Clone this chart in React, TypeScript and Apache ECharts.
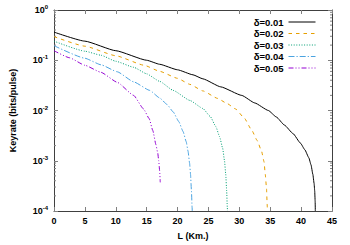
import React, { useEffect, useRef } from "react";
import * as echarts from "echarts";

const seriesNames = ["δ=0.01", "δ=0.02", "δ=0.03", "δ=0.04", "δ=0.05"];
const seriesColors = ["#000000", "#E69F00", "#009E73", "#4aa3e0", "#9400D3"];
const seriesDash: (number[] | "solid")[] = [
  "solid",
  [3.5, 4],
  [1, 1.6],
  [6, 2, 1.2, 2],
  [5, 2, 1, 2, 1, 2],
];

// [L (km), log10(keyrate)]
const d001: [number, number][] = [
  [0, -0.44], [5, -0.62], [10, -0.81], [15, -1.0], [17.1, -1.08], [20, -1.19],
  [22.5, -1.29], [24.1, -1.37], [27, -1.53], [30.4, -1.7], [32.5, -1.85],
  [34.7, -2.0], [36, -2.13], [37.3, -2.29], [38.7, -2.46], [39.9, -2.65],
  [40.6, -2.78], [41.25, -2.94], [41.6, -3.08], [41.9, -3.27], [42.1, -3.45],
  [42.2, -3.6], [42.27, -3.8], [42.3, -4.0],
];
const d002: [number, number][] = [
  [0, -0.53], [5, -0.72], [10, -0.91], [14.6, -1.1], [17.1, -1.22], [20, -1.36],
  [22, -1.48], [24.1, -1.61], [26.5, -1.76], [28, -1.86], [29.4, -1.97],
  [30.8, -2.15], [32.0, -2.39], [32.9, -2.6], [33.6, -2.81], [34.0, -3.02],
  [34.2, -3.27], [34.4, -3.55], [34.5, -3.86], [34.55, -4.0],
];
const d003: [number, number][] = [
  [0, -0.62], [5, -0.82], [7.6, -0.9], [10, -1.02], [12.9, -1.14], [15, -1.27],
  [17.1, -1.42], [19.3, -1.6], [22, -1.8], [24.1, -1.96], [25.3, -2.12],
  [26.2, -2.32], [26.8, -2.52], [27.3, -2.75], [27.6, -3.0], [27.8, -3.27],
  [27.95, -3.6], [28.05, -3.92], [28.08, -4.0],
];
const d004: [number, number][] = [
  [0, -0.71], [5, -0.96], [7.6, -1.09], [10.25, -1.23], [12.9, -1.43],
  [15.5, -1.6], [17.1, -1.75], [18.3, -1.88], [19.3, -2.03], [20.2, -2.22],
  [20.9, -2.42], [21.4, -2.62], [21.7, -2.81], [21.95, -3.05], [22.1, -3.27],
  [22.25, -3.6], [22.35, -3.92], [22.38, -4.0],
];
const d005: [number, number][] = [
  [0, -0.81], [2.5, -0.95], [5, -1.1], [7.6, -1.24], [10.25, -1.44],
  [12.9, -1.7], [14.5, -1.97], [15.4, -2.16], [16.0, -2.4], [16.5, -2.68],
  [16.8, -2.85], [16.95, -3.0], [17.1, -3.2], [17.2, -3.43],
];
const seriesData = [d001, d002, d003, d004, d005];

const xTicks = [0, 5, 10, 15, 20, 25, 30, 35, 40, 45];
const yDecades = [-4, -3, -2, -1, 0];
const minorMultipliers = [2, 3, 4, 5, 6, 7, 8, 9];

const FONT = "'Liberation Sans', Arial, sans-serif";

export default function App() {
  const ref = useRef<HTMLDivElement>(null);
  useEffect(() => {
    if (!ref.current) return;
    const chart = echarts.init(ref.current, undefined, { renderer: "svg" });

    const minorVals: number[] = [];
    yDecades.slice(0, -1).forEach((e) =>
      minorMultipliers.forEach((m) => minorVals.push(m * Math.pow(10, e)))
    );

    const axisLineStyle = { color: "#404040", width: 1 };
    const tickStyle = { color: "#808080", width: 1 };

    const lineSeries = seriesNames.map((name, i) => ({
      name,
      type: "line",
      xAxisIndex: 0,
      yAxisIndex: 0,
      data: seriesData[i].map(([x, ly]) => [x, Math.pow(10, ly)]),
      showSymbol: false,
      symbol: "none",
      smooth: 0.15,
      smoothMonotone: "x",
      lineStyle: { color: seriesColors[i], width: 1, type: seriesDash[i] },
      itemStyle: { color: seriesColors[i] },
      z: 3,
    }));

    const minorTickSeries = {
      type: "custom",
      name: "minor",
      xAxisIndex: 0,
      yAxisIndex: 0,
      silent: true,
      clip: false,
      z: 1,
      data: minorVals.map((v) => [0, v]),
      renderItem: (_p: any, api: any) => {
        const v = api.value(1);
        const a = api.coord([xTicks[0], v]);
        const b = api.coord([xTicks[xTicks.length - 1], v]);
        const st = { stroke: "#808080", lineWidth: 1 };
        return {
          type: "group",
          children: [
            { type: "line", shape: { x1: a[0], y1: a[1], x2: a[0] + 2, y2: a[1] }, style: st },
            { type: "line", shape: { x1: b[0] - 2, y1: b[1], x2: b[0], y2: b[1] }, style: st },
          ],
        };
      },
    };

    const yLabelFormatter = (val: number) => {
      const e = Math.round(Math.log10(val));
      return `{a|10}{b|${e}}`;
    };

    chart.setOption({
      animation: false,
      backgroundColor: "#ffffff",
      textStyle: { fontFamily: FONT },
      grid: { left: 48, right: 18, top: 10, bottom: 31, containLabel: false },
      legend: {
        data: seriesNames,
        orient: "vertical",
        right: 29,
        top: 12,
        align: "right",
        itemWidth: 27,
        itemHeight: 7,
        itemGap: 1.5,
        itemStyle: { opacity: 0 },
        lineStyle: { width: 1 },
        textStyle: { fontFamily: FONT, fontSize: 9.5, fontWeight: "bold", color: "#000", lineHeight: 7 },
      },
      xAxis: [
        {
          type: "value",
          min: 0,
          max: 45,
          interval: 5,
          position: "bottom",
          name: "L (Km.)",
          nameLocation: "middle",
          nameGap: 20,
          nameTextStyle: { fontFamily: FONT, fontSize: 9, fontWeight: "bold", color: "#000" },
          axisLine: { show: true, onZero: false, lineStyle: axisLineStyle },
          axisTick: { show: true, inside: true, length: 4, lineStyle: tickStyle },
          axisLabel: { fontFamily: FONT, fontSize: 9, fontWeight: "bold", color: "#000", margin: 5 },
          splitLine: { show: false },
        },
        {
          type: "value",
          min: 0,
          max: 45,
          interval: 5,
          position: "top",
          axisLine: { show: true, onZero: false, lineStyle: axisLineStyle },
          axisTick: { show: true, inside: true, length: 4, lineStyle: tickStyle },
          axisLabel: { show: false },
          splitLine: { show: false },
        },
      ],
      yAxis: [
        {
          type: "log",
          logBase: 10,
          min: 1e-4,
          max: 1,
          position: "left",
          name: "Keyrate (bits/pulse)",
          nameLocation: "middle",
          nameGap: 37,
          nameRotate: 90,
          nameTextStyle: { fontFamily: FONT, fontSize: 9, fontWeight: "bold", color: "#000" },
          axisLine: { show: true, onZero: false, lineStyle: axisLineStyle },
          axisTick: { show: true, inside: true, length: 4, lineStyle: tickStyle },
          axisLabel: {
            margin: 6,
            formatter: yLabelFormatter,
            rich: {
              a: { fontFamily: FONT, fontSize: 9, fontWeight: "bold", color: "#000" },
              b: { fontFamily: FONT, fontSize: 6, fontWeight: "bold", color: "#000", padding: [0, 0, 6, 0] },
            },
          },
          splitLine: { show: false },
          minorTick: { show: false },
        },
        {
          type: "log",
          logBase: 10,
          min: 1e-4,
          max: 1,
          position: "right",
          axisLine: { show: true, onZero: false, lineStyle: axisLineStyle },
          axisTick: { show: true, inside: true, length: 4, lineStyle: tickStyle },
          axisLabel: { show: false },
          splitLine: { show: false },
        },
      ],
      series: [...lineSeries, minorTickSeries],
    });
    return () => chart.dispose();
  }, []);
  return (
    <div
      ref={ref}
      style={{ position: "absolute", left: 0, top: 0, width: 350, height: 245 }}
    />
  );
}
